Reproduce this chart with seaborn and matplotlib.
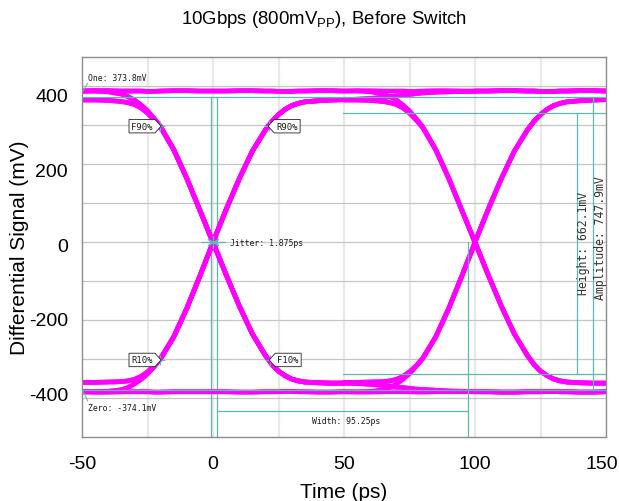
import matplotlib
matplotlib.use("Agg")
import matplotlib.pyplot as plt
from matplotlib.path import Path
from matplotlib.transforms import ScaledTranslation
import numpy as np
import pandas as pd
import seaborn as sns

# ---------------- data ----------------
# time offsets (ps) relative to an eye crossing
d_pre = [-50, -45, -40, -35, -32.5, -30, -27.5, -25, -22.5, -20, -15, -10, -5, 0]
d_post = [0, 5, 10, 15, 20, 22.5, 25, 27.5, 30, 32.5, 35, 40, 45, 50]
crossings_ps = [0, 100]

# trace segments (mV) on d_pre (PRE_*) or d_post (POST_*)
PRE_RISE_F = [-370, -370, -369, -368, -366, -362, -354, -342, -326, -306, -248, -172, -85, 5]
PRE_RISE_S = [-395, -395, -394, -390, -384, -374, -362, -347, -328, -307, -249, -172, -86, 3]
PRE_FALL_F = [385, 385, 384, 381, 378, 373, 364, 350, 332, 312, 252, 175, 90, 5]
PRE_FALL_S = [409, 409, 407, 401, 394, 385, 372, 356, 336, 314, 253, 176, 90, 3]
PRE_HOLD1_S = [409, 410, 410, 409, 409, 409, 409, 408, 408, 409, 410, 410, 409, 409]
PRE_HOLD0_S = [-395, -396, -396, -395, -395, -395, -395, -395, -396, -396, -395, -395, -395, -395]
PRE_HOLD1_F = [386, 387, 389, 392, 394, 396, 398, 400, 402, 404, 406, 407, 408, 408]
PRE_HOLD0_F = [-372, -373, -375, -378, -380, -382, -384, -386, -388, -389, -391, -393, -394, -395]
POST_RISE = [5, 92, 174, 248, 305, 328, 346, 360, 370, 376, 380, 383, 385, 386]
POST_FALL = [5, -82, -165, -240, -298, -322, -340, -352, -361, -366, -369, -371, -372, -372]
POST_HOLD1_S = [409, 409, 410, 410, 409, 409, 408, 408, 408, 409, 409, 410, 410, 409]
POST_HOLD0_S = [-395, -395, -396, -396, -395, -395, -395, -394, -394, -395, -395, -396, -396, -395]

segments = {
    "PRE_RISE_F": PRE_RISE_F, "PRE_RISE_S": PRE_RISE_S,
    "PRE_FALL_F": PRE_FALL_F, "PRE_FALL_S": PRE_FALL_S,
    "PRE_HOLD1_S": PRE_HOLD1_S, "PRE_HOLD0_S": PRE_HOLD0_S,
    "PRE_HOLD1_F": PRE_HOLD1_F, "PRE_HOLD0_F": PRE_HOLD0_F,
    "POST_RISE": POST_RISE, "POST_FALL": POST_FALL,
    "POST_HOLD1_S": POST_HOLD1_S, "POST_HOLD0_S": POST_HOLD0_S,
}

trace_patterns = [
    ["PRE_HOLD1_S", "POST_HOLD1_S", "PRE_HOLD1_S", "POST_HOLD1_S"],
    ["PRE_HOLD0_S", "POST_HOLD0_S", "PRE_HOLD0_S", "POST_HOLD0_S"],
    ["PRE_RISE_S", "POST_RISE", "PRE_FALL_F", "POST_FALL"],
    ["PRE_RISE_F", "POST_RISE", "PRE_HOLD1_F", "POST_HOLD1_S"],
    ["PRE_FALL_S", "POST_FALL", "PRE_RISE_F", "POST_RISE"],
    ["PRE_FALL_F", "POST_FALL", "PRE_HOLD0_F", "POST_HOLD0_S"],
    ["PRE_HOLD1_S", "POST_HOLD1_S", "PRE_FALL_S", "POST_FALL"],
    ["PRE_HOLD0_S", "POST_HOLD0_S", "PRE_RISE_S", "POST_RISE"],
    ["PRE_RISE_F", "POST_RISE", "PRE_FALL_F", "POST_FALL"],
    ["PRE_FALL_F", "POST_FALL", "PRE_RISE_F", "POST_RISE"],
    ["PRE_RISE_S", "POST_RISE", "PRE_HOLD1_F", "POST_HOLD1_S"],
    ["PRE_FALL_S", "POST_FALL", "PRE_HOLD0_F", "POST_HOLD0_S"],
]

# scope graticule
scope_grid_t = [-25, 0, 25, 50, 75, 100, 125]
scope_grid_v = [-412, -307.5, -203, -99, 5, 110, 214, 318, 422]

# measurement overlay values
one_mv = 394
zero_mv = -390
eye_top_mv = 349.5
eye_bot_mv = -347.6
eye_line_start_ps = 49.6
height_at_ps = 139.1
ampl_at_ps = 145.2
jitter_edges_ps = [-0.8, 1.5]
cross_pt = (0, 5)
width_end_ps = 97.2
width_line_mv = -446
level_markers = [("F90%", -20.2, 315, "r"), ("R90%", 21.4, 315, "l"),
                 ("R10%", -20.2, -310, "r"), ("F10%", 21.8, -310, "l")]

xticks = [-50, 0, 50, 100, 150]
yticks = [-400, -200, 0, 200, 400]

# ---------------- build long-form table ----------------
rows = []
for i, pat in enumerate(trace_patterns):
    for k, name in enumerate(pat):
        grid = d_pre if name.startswith("PRE") else d_post
        c = crossings_ps[0] if k < 2 else crossings_ps[1]
        for d, v in zip(grid, segments[name]):
            rows.append((i, d + c, v))
df = pd.DataFrame(rows, columns=["trace", "t", "v"])

# ---------------- plotting ----------------
sns.set_theme(style="white")
plt.rcParams["font.family"] = ["Liberation Sans", "DejaVu Sans"]
plt.rcParams["mathtext.fontset"] = "custom"
plt.rcParams["mathtext.rm"] = "Liberation Sans"
plt.rcParams["axes.unicode_minus"] = False
plt.rcParams["text.color"] = "black"
plt.rcParams["axes.labelcolor"] = "black"

W, H = 619, 502
fig = plt.figure(figsize=(W / 100, H / 100), dpi=100)
ax = fig.add_axes([82 / W, 1 - 438 / H, 524 / W, 380 / H])

CY = "#5fb8ae"
MAG = "#ff00ff"
MONO = "DejaVu Sans Mono"

for t in scope_grid_t:
    ax.axvline(t, color="#e8e8e8", lw=1.6, zorder=0)
for v in scope_grid_v:
    ax.axhline(v, color="#c6c6c6", lw=0.9, zorder=0)

sns.lineplot(data=df, x="t", y="v", units="trace", estimator=None, sort=False,
             color=MAG, linewidth=3.4, ax=ax, zorder=2)

# measurement overlays
ax.axhline(one_mv, color=CY, lw=0.9, zorder=3)
ax.axhline(zero_mv, color=CY, lw=0.9, zorder=3)
ax.plot([eye_line_start_ps, 150], [eye_top_mv, eye_top_mv], color=CY, lw=0.9, zorder=3)
ax.plot([eye_line_start_ps, 150], [eye_bot_mv, eye_bot_mv], color=CY, lw=0.9, zorder=3)
ax.plot([height_at_ps, height_at_ps], [eye_bot_mv, eye_top_mv], color=CY, lw=0.9, zorder=3)
ax.plot([ampl_at_ps, ampl_at_ps], [zero_mv, one_mv], color=CY, lw=0.9, zorder=3)
for tj in jitter_edges_ps:
    ax.plot([tj, tj], [-516, one_mv], color=CY, lw=0.9, zorder=1.5)
ax.plot([jitter_edges_ps[1], width_end_ps], [width_line_mv, width_line_mv], color=CY, lw=0.9, zorder=3)
ax.plot([width_end_ps, width_end_ps], [-516, cross_pt[1]], color=CY, lw=0.9, zorder=3)
ax.plot([cross_pt[0] - 4.4, cross_pt[0] + 4.6], [cross_pt[1], cross_pt[1]], color=CY, lw=0.9, zorder=3)
ax.plot([cross_pt[0]], [cross_pt[1]], marker=(6, 2, 0), ms=9, mew=0.8, color=CY, zorder=3)

# leaders
ax.plot([-49.6, -47.8], [409, 430], color=CY, lw=0.7, zorder=3)
ax.plot([-49.6, -47.8], [-393, -420], color=CY, lw=0.7, zorder=3)

tk = dict(fontsize=5.9, family=MONO, color="#1a1a1a", zorder=4)
ax.text(-47.7, 446, "One: 373.8mV", ha="left", va="center", **tk)
ax.text(-47.7, -438, "Zero: -374.1mV", ha="left", va="center", **tk)
ax.text(6.5, 3, "Jitter: 1.875ps", ha="left", va="center", **tk)
ax.text(37.8, -473, "Width: 95.25ps", ha="left", va="center", **tk)
tr = dict(fontsize=8.3, family=MONO, color="#333333", zorder=4)
ax.text(141.6, 3, "Height: 662.1mV", ha="center", va="center", rotation=90, **tr)
ax.text(147.8, 19, "Amplitude: 747.9mV", ha="center", va="center", rotation=90, **tr)


def pent(direction):
    def style(x0, y0, width, height, mutation_size):
        pad = 0.25 * mutation_size
        x0, y0 = x0 - pad, y0 - pad
        w, h = width + 2 * pad, height + 2 * pad
        tip = h * 0.45
        if direction == "r":
            verts = [(x0, y0), (x0 + w, y0), (x0 + w + tip, y0 + h / 2),
                     (x0 + w, y0 + h), (x0, y0 + h), (x0, y0)]
        else:
            verts = [(x0, y0), (x0 + w, y0), (x0 + w, y0 + h),
                     (x0, y0 + h), (x0 - tip, y0 + h / 2), (x0, y0)]
        return Path(verts, closed=True)
    return style


for lab, tx, vy, dirn in level_markers:
    ax.plot([tx], [vy], marker="+", ms=7, mew=0.8, color=CY, zorder=3)
    if dirn == "r":
        ax.text(tx - 2.8, vy, lab, ha="right", va="center", fontsize=6.4, family=MONO,
                color="#1a1a1a", zorder=5,
                bbox=dict(boxstyle=pent("r"), fc="white", ec="#222222", lw=0.6))
    else:
        ax.text(tx + 2.8, vy, lab, ha="left", va="center", fontsize=6.4, family=MONO,
                color="#1a1a1a", zorder=5,
                bbox=dict(boxstyle=pent("l"), fc="white", ec="#222222", lw=0.6))

ax.set_xlim(-50, 150)
ax.set_ylim(-516, 500)
ax.set_xticks(xticks)
ax.set_yticks(yticks)
ax.tick_params(axis="x", length=0, labelsize=14, pad=13, colors="black")
ax.tick_params(axis="y", length=0, labelsize=14, pad=10, colors="black")
# keep the last x label inside the canvas
xl = ax.get_xticklabels()
xl[-1].set_transform(xl[-1].get_transform() + ScaledTranslation(-4 / 100, 0, fig.dpi_scale_trans))
for s in ax.spines.values():
    s.set_color("#8c8c8c")
    s.set_linewidth(1.0)
ax.set_xlabel("Time (ps)", fontsize=15, labelpad=7, color="black")
ax.set_ylabel("Differential Signal (mV)", fontsize=15, labelpad=0, color="black")
ax.grid(False)

fig.text(324 / W, 1 - 19 / H, r"10Gbps (800mV$_{\mathrm{PP}}$), Before Switch",
         ha="center", va="center", fontsize=13.4, color="black")

fig.savefig("out.png", dpi=100)
